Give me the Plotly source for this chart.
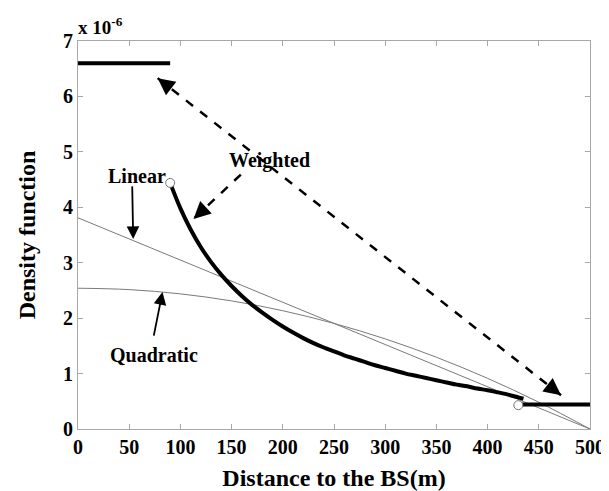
import plotly.graph_objects as go

# ---- data (values in units of 1e-6) ----
w_top_x = [0, 90]
w_top_y = [6.6, 6.6]
w_curve_x = [90, 100, 110, 120, 130, 140, 150, 160, 170, 180, 190, 200, 210, 220, 230,
             240, 250, 260, 270, 280, 290, 300, 310, 320, 330, 340, 350, 360, 370, 380,
             390, 400, 410, 420, 430, 435]
w_curve_y = [4.44, 3.98, 3.60, 3.28, 3.01, 2.78, 2.58, 2.40, 2.24, 2.10, 1.97, 1.85, 1.74,
             1.64, 1.55, 1.47, 1.40, 1.33, 1.27, 1.21, 1.15, 1.10, 1.05, 1.00, 0.96, 0.92,
             0.88, 0.84, 0.80, 0.77, 0.73, 0.70, 0.66, 0.62, 0.57, 0.545]
w_bot_x = [430, 500]
w_bot_y = [0.44, 0.44]
open_x = [90, 430]
open_y = [4.44, 0.43]

lin_x = [0, 500]
lin_y = [3.81, 0.0]
quad_x = [0, 50, 100, 150, 200, 250, 300, 350, 400, 450, 500]
quad_y = [2.54, 2.515, 2.438, 2.311, 2.134, 1.905, 1.626, 1.295, 0.914, 0.483, 0.0]

x_ticks = [0, 50, 100, 150, 200, 250, 300, 350, 400, 450, 500]
y_ticks = [0, 1, 2, 3, 4, 5, 6, 7]

FONT = "Liberation Serif"
AX = "#a8a8a8"

fig = go.Figure()
fig.add_trace(go.Scatter(x=lin_x, y=lin_y, mode="lines",
                         line=dict(color="#7a7a7a", width=1)))
fig.add_trace(go.Scatter(x=quad_x, y=quad_y, mode="lines", line_shape="spline",
                         line=dict(color="#7a7a7a", width=1)))
for xs, ys in [(w_top_x, w_top_y), (w_curve_x, w_curve_y), (w_bot_x, w_bot_y)]:
    fig.add_trace(go.Scatter(x=xs, y=ys, mode="lines", line_shape="spline",
                             line=dict(color="black", width=4)))
fig.add_trace(go.Scatter(x=open_x, y=open_y, mode="markers",
                         marker=dict(symbol="circle", size=9, color="white",
                                     line=dict(color="#777777", width=1))))

# dashed long double arrow
p1 = (77.8, 6.33)
p2 = (471.7, 0.61)
fig.add_shape(type="line", x0=p1[0], y0=p1[1], x1=p2[0], y1=p2[1],
              line=dict(color="black", width=2.5, dash="dash"))
# dashed short arrow
q_tail = (159, 4.59)
q_tip = (112.8, 3.79)
fig.add_shape(type="line", x0=q_tail[0], y0=q_tail[1], x1=q_tip[0], y1=q_tip[1],
              line=dict(color="black", width=2.5, dash="dash"))

def head(x, y, ax, ay):
    fig.add_annotation(x=x, y=y, ax=ax, ay=ay, text="", showarrow=True,
                       arrowhead=2, arrowsize=1.7, arrowwidth=2, arrowcolor="black",
                       standoff=0)

head(p1[0], p1[1], 9.5, 7.3)
head(p2[0], p2[1], -9.5, -7.3)
head(q_tip[0], q_tip[1], 8.8, -8.2)

# solid arrows
fig.add_annotation(x=53.9, y=3.43, ax=-1, ay=-54, text="", showarrow=True,
                   arrowhead=2, arrowsize=1.4, arrowwidth=1.8, arrowcolor="black", standoff=0)
fig.add_annotation(x=82.5, y=2.47, ax=-9, ay=45, text="", showarrow=True,
                   arrowhead=2, arrowsize=1.4, arrowwidth=1.8, arrowcolor="black", standoff=0)

lab_font = dict(family=FONT, size=20, color="black")
fig.add_annotation(x=187, y=4.84, text="<b>Weighted</b>", showarrow=False, font=lab_font)
fig.add_annotation(x=58, y=4.57, text="<b>Linear</b>", showarrow=False, font=lab_font)
fig.add_annotation(x=74, y=1.33, text="<b>Quadratic</b>", showarrow=False, font=lab_font)

fig.add_annotation(x=0, y=1, xref="paper", yref="paper", xanchor="left", yanchor="bottom",
                   xshift=-2, yshift=1,
                   text="<b>x 10<sup>-6</sup></b>", showarrow=False,
                   font=dict(family=FONT, size=19, color="black"))

axis_common = dict(showline=True, linecolor=AX, linewidth=1, mirror="ticks",
                   ticks="inside", ticklen=5, tickcolor=AX, showgrid=False, zeroline=False,
                   tickfont=dict(family=FONT, size=20, color="black"))

fig.update_layout(
    width=609, height=491,
    margin=dict(l=70, r=16, t=33, b=69),
    paper_bgcolor="white", plot_bgcolor="white",
    showlegend=False,
    xaxis=dict(range=[0, 500], tickvals=x_ticks,
               ticktext=[f"<b>{v}</b>" for v in x_ticks],
               title=dict(text="<b>Distance to the BS(m)</b>",
                          font=dict(family=FONT, size=24, color="black"), standoff=12),
               **axis_common),
    yaxis=dict(range=[0, 7], tickvals=y_ticks,
               ticktext=[f"<b>{v}</b>" for v in y_ticks],
               title=dict(text="<b>Density function</b>",
                          font=dict(family=FONT, size=24, color="black"), standoff=20),
               **axis_common),
)

fig.write_html("out.html")
